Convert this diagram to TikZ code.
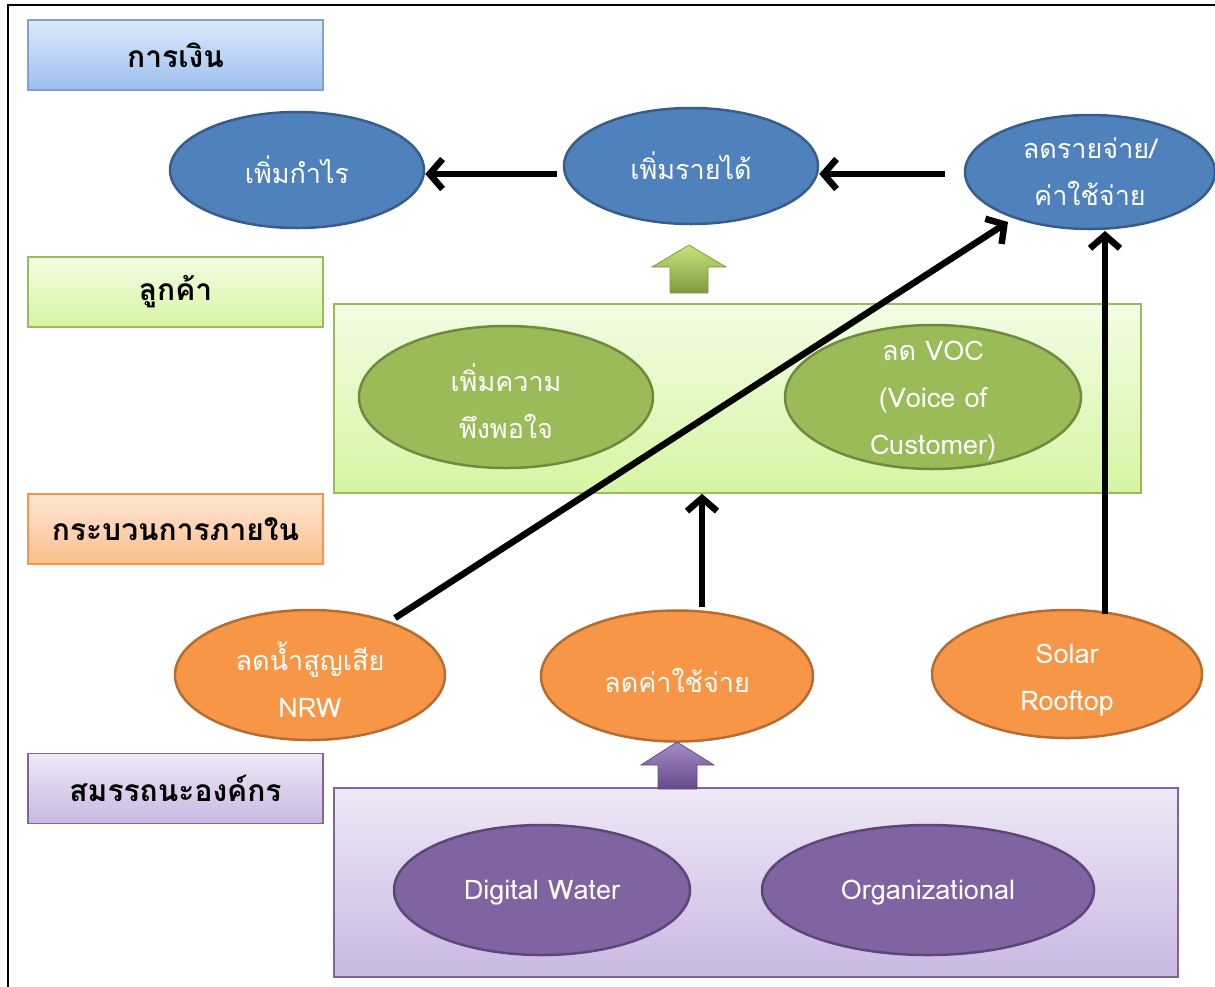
\documentclass[tikz,border=0pt]{standalone}
\usepackage{fontspec}
\setmainfont[Script=Thai]{Loma}
\usetikzlibrary{shapes.geometric,arrows.meta}
\definecolor{bluefill}{HTML}{4F81BD}
\definecolor{blueline}{HTML}{385D8A}
\definecolor{greenfill}{HTML}{9BBB59}
\definecolor{greenline}{HTML}{71893F}
\definecolor{orangefill}{HTML}{F79646}
\definecolor{orangeline}{HTML}{B66D31}
\definecolor{purplefill}{HTML}{8064A2}
\definecolor{purpleline}{HTML}{5C4776}
\definecolor{bluetop}{HTML}{DDE9FB}
\definecolor{bluebot}{HTML}{9DBEF0}
\definecolor{blueedge}{HTML}{7DA2D6}
\definecolor{greentop}{HTML}{F2FDE4}
\definecolor{greenbot}{HTML}{D6F5A3}
\definecolor{greenedge}{HTML}{9BBB59}
\definecolor{orangetop}{HTML}{FEE6D4}
\definecolor{orangebot}{HTML}{FBBE8C}
\definecolor{orangeedge}{HTML}{F79646}
\definecolor{purpletop}{HTML}{EEE8F6}
\definecolor{purplebot}{HTML}{C9B8E2}
\definecolor{purpleedge}{HTML}{8064A2}
\definecolor{arrowgreentop}{HTML}{C6E37A}
\definecolor{arrowgreenbot}{HTML}{7E9C3F}
\definecolor{arrowpurpletop}{HTML}{A48DC6}
\definecolor{arrowpurplebot}{HTML}{654A88}
\tikzset{
  lab/.style={draw, line width=1.5pt, minimum width=295pt, minimum height=70pt, inner sep=0pt, text=black, font=\bfseries\fontsize{30}{36}\selectfont},
  container/.style={draw, line width=1.5pt, inner sep=0pt},
  ell/.style={ellipse, draw, line width=2.5pt, inner sep=0pt},
  etext/.style={text=white, align=center, inner sep=0pt, font=\fontsize{27}{47}\selectfont},
  conn/.style={line width=6.5pt, draw=black, -{Straight Barb[length=13pt,width=30pt,line width=6.5pt]}},
  blockarrow/.style={draw=#1, line width=0.8pt}
}
\begin{document}
\begin{tikzpicture}[x=1pt,y=-1pt]
\useasboundingbox (0,0) rectangle (1215,986);
\draw[line width=2pt, black] (8,5) rectangle (1240,1010);

% left labels
\node[lab, draw=blueedge, top color=bluetop, bottom color=bluebot] (lfin) at (175.5,55) {การเงิน};
\node[lab, draw=greenedge, top color=greentop, bottom color=greenbot] (lcus) at (175.5,292) {ลูกค้า};
\node[lab, draw=orangeedge, top color=orangetop, bottom color=orangebot] (lint) at (175.5,529) {กระบวนการภายใน};
\node[lab, draw=purpleedge, top color=purpletop, bottom color=purplebot] (lorg) at (175.5,788.5) {สมรรถนะองค์กร};

% containers
\node[container, draw=greenedge, top color=greentop, bottom color=greenbot, minimum width=807pt, minimum height=189pt] (custbox) at (737.5,398.5) {};
\node[container, draw=purpleedge, top color=purpletop, bottom color=purplebot, minimum width=844pt, minimum height=189pt] (orgbox) at (756,882.5) {};

% finance ellipses
\node[ell, fill=bluefill, draw=blueline, minimum width=254pt, minimum height=116pt] (profit) at (297,170) {};
\node[etext] at (profit.center) {เพิ่มกำไร};
\node[ell, fill=bluefill, draw=blueline, minimum width=254pt, minimum height=116pt] (rev) at (691,166) {};
\node[etext] at (rev.center) {เพิ่มรายได้};
\node[ell, fill=bluefill, draw=blueline, minimum width=250pt, minimum height=114pt] (cost) at (1090,172) {};
\node[etext] at (cost.center) {ลดรายจ่าย/\\ค่าใช้จ่าย};

% customer ellipses
\node[ell, fill=greenfill, draw=greenline, minimum width=294pt, minimum height=142pt] (sat) at (506,397) {};
\node[etext] at ([yshift=-4pt]sat.center) {เพิ่มความ\\พึงพอใจ};
\node[ell, fill=greenfill, draw=greenline, minimum width=296pt, minimum height=144pt] (voc) at (933,397) {};
\node[etext] at ([yshift=-4pt]voc.center) {ลด VOC\\(Voice of\\Customer)};

% internal process ellipses
\node[ell, fill=orangefill, draw=orangeline, minimum width=270pt, minimum height=130pt] (nrw) at (310,675) {};
\node[etext] at ([yshift=-5pt]nrw.center) {ลดน้ำสูญเสีย\\NRW};
\node[ell, fill=orangefill, draw=orangeline, minimum width=272pt, minimum height=131pt] (cut) at (677,676) {};
\node[etext] at ([yshift=-4pt]cut.center) {ลดค่าใช้จ่าย};
\node[ell, fill=orangefill, draw=orangeline, minimum width=270pt, minimum height=128pt] (solar) at (1067,674) {};
\node[etext] at ([yshift=-6pt]solar.center) {Solar\\Rooftop};

% capability ellipses
\node[ell, fill=purplefill, draw=purpleline, minimum width=296pt, minimum height=130pt] (dw) at (542,890) {};
\node[etext] at ([yshift=-3pt]dw.center) {Digital Water};
\node[ell, fill=purplefill, draw=purpleline, minimum width=332pt, minimum height=130pt] (orgn) at (928,890) {};
\node[etext] at ([yshift=-3pt]orgn.center) {Organizational};

% block arrows
\shade[top color=arrowgreentop, bottom color=arrowgreenbot, blockarrow=arrowgreenbot]
  (689,245) -- (726,267) -- (708,267) -- (708,293) -- (670,293) -- (670,267) -- (652,267) -- cycle;
\shade[top color=arrowpurpletop, bottom color=arrowpurplebot, blockarrow=arrowpurplebot]
  (677,742) -- (714,765) -- (697,765) -- (697,789) -- (658,789) -- (658,765) -- (641,765) -- cycle;

% connectors
\coordinate (r1) at (557,174);
\coordinate (c1) at (945,174);
\draw[conn] (r1) -- (r1 -| profit.east);
\draw[conn] (c1) -- (c1 -| rev.east);
\coordinate (n1) at (395,618);
\coordinate (n2) at (1008,222);
\draw[conn] (n1) -- (n2);
\coordinate (m1) at (702,607);
\draw[conn] (m1) -- (m1 |- custbox.south);
\coordinate (s1) at (1105,614);
\coordinate (s2) at (1105,231);
\draw[conn] (s1) -- (s2);
\end{tikzpicture}
\end{document}
